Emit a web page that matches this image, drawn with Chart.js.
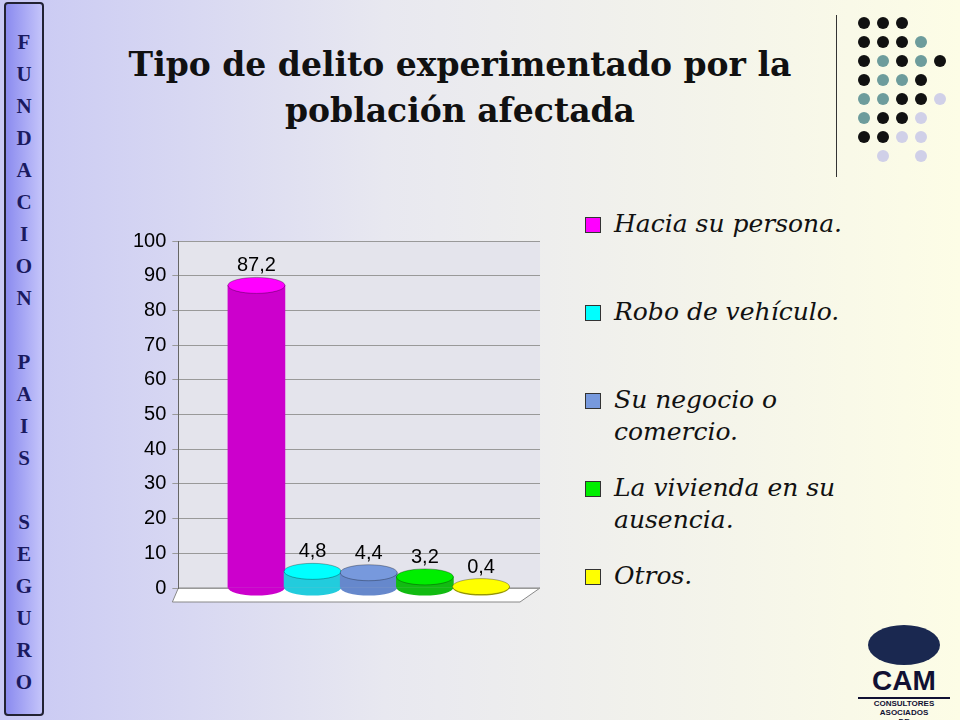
<!DOCTYPE html>
<html><head><meta charset="utf-8">
<script src="https://cdn.jsdelivr.net/npm/chart.js@4/dist/chart.umd.min.js"></script>
<style>
body{margin:0;width:960px;height:720px;overflow:hidden;position:relative;
 background:linear-gradient(90deg,#c8c8f4 0%,#e8e8f0 40%,#fdfde6 100%);font-family:"DejaVu Serif",serif}
#side{position:absolute;left:4px;top:2px;width:40px;height:714px;background:linear-gradient(90deg,#8b8bef,#c4c4fa);
 border:2px solid #223;border-radius:4px;box-sizing:border-box;text-align:center;font:bold 21px "Liberation Serif",serif;color:#1a1a60;line-height:32px;padding-top:22px}
#title{position:absolute;left:110px;top:42px;width:700px;text-align:center;font:bold 33px "DejaVu Serif",serif;line-height:46px;color:#111}
#vline{position:absolute;left:836px;top:15px;width:1px;height:162px;background:#333}
#dots{position:absolute;left:843px;top:10px}
.d{position:absolute;width:12px;height:12px;border-radius:50%}
#legend{position:absolute;left:585px;top:208px;font:italic 25px "DejaVu Serif",serif;color:#111}
.li{position:absolute;left:0;width:300px;line-height:32px}
.sw{position:absolute;left:0;top:9px;width:14px;height:14px;border:1px solid #333}
.li span{position:absolute;left:29px;white-space:nowrap}
#cam{position:absolute;left:858px;top:625px;width:92px;font:bold 28px "Liberation Sans",sans-serif;color:#113;text-align:center}
</style></head><body>
<div id="side">F<br>U<br>N<br>D<br>A<br>C<br>I<br>O<br>N<br><br>P<br>A<br>I<br>S<br><br>S<br>E<br>G<br>U<br>R<br>O</div>
<div id="title">Tipo de delito experimentado por la población afectada</div>
<div id="vline"></div><div id="dots"></div>
<div id="legend"></div>
<div id="cam"><div style="width:72px;height:40px;margin:0 auto;border-radius:50%;background:#1a2850"></div>CAM<div style="font-size:8px;line-height:9px;border-top:2px solid #113">CONSULTORES<br>ASOCIADOS<br>DE<br>MARKETING</div></div>
<canvas id="c" width="960" height="720" style="position:absolute;left:0;top:0"></canvas>
<script>
const categories = ["Hacia su persona.", "Robo de vehículo.", "Su negocio o comercio.", "La vivienda en su ausencia.", "Otros."];
const values = [87.2, 4.8, 4.4, 3.2, 0.4];
const valueLabels = ["87,2", "4,8", "4,4", "3,2", "0,4"];
const colors = ["#cc00cc", "#22ccdd", "#6688cc", "#11bb11", "#aaaa11"];
const legendColors = ["#ff00ff", "#00ffff", "#7799dd", "#00ee00", "#ffff00"];
const yTicks = [0, 10, 20, 30, 40, 50, 60, 70, 80, 90, 100];

// dots top right
const dotRows = [
  ["k","k","k","",""],["k","k","k","g",""],["k","g","k","g","k"],["k","g","g","k",""],
  ["g","g","k","k","l"],["g","k","k","l",""],["k","k","l","l",""],["","l","","l",""]];
const dc = {k:"#111", g:"#6d9c9c", l:"#d0d0e8"};
dotRows.forEach((r, i) => r.forEach((c, j) => {
  if (!c) return;
  const d = document.createElement("div");
  d.className = "d"; d.style.background = dc[c];
  d.style.left = (j * 19 + 15) + "px"; d.style.top = (i * 19 + 7) + "px";
  document.getElementById("dots").appendChild(d);
}));

// legend
const legTop = [0, 88, 176, 264, 352];
const legText = ["Hacia su persona.", "Robo de vehículo.", "Su negocio o<br>comercio.", "La vivienda en su<br>ausencia.", "Otros."];
categories.forEach((c, i) => {
  const el = document.createElement("div");
  el.className = "li"; el.style.top = legTop[i] + "px";
  el.innerHTML = `<div class="sw" style="background:${legendColors[i]}"></div><span>${legText[i]}</span>`;
  document.getElementById("legend").appendChild(el);
});

const cyl = {
  id: "cyl",
  beforeDraw(chart) {
    const { ctx, chartArea: a } = chart;
    ctx.save();
    ctx.fillStyle = "#e4e4ec";
    ctx.fillRect(a.left, a.top, a.right - a.left, a.bottom - a.top);
    ctx.fillStyle = "#fff";
    ctx.strokeStyle = "#888";
    ctx.beginPath();
    ctx.moveTo(a.left, a.bottom); ctx.lineTo(a.right, a.bottom);
    ctx.lineTo(a.right - 20, a.bottom + 14); ctx.lineTo(a.left - 6, a.bottom + 14);
    ctx.closePath(); ctx.fill(); ctx.stroke();
    ctx.restore();
  },
  afterDatasetsDraw(chart) {
    const { ctx } = chart;
    chart.getDatasetMeta(0).data.forEach((b, i) => {
      const w = b.width / 2;
      ctx.save();
      ctx.fillStyle = colors[i];
      ctx.beginPath(); ctx.ellipse(b.x, b.base, w, 8, 0, 0, Math.PI); ctx.fill();
      ctx.fillStyle = legendColors[i];
      ctx.strokeStyle = "rgba(0,0,0,0.3)";
      ctx.beginPath(); ctx.ellipse(b.x, b.y, w, 8, 0, 0, 2 * Math.PI); ctx.fill(); ctx.stroke();
      ctx.fillStyle = "#000";
      ctx.font = "20px 'Liberation Sans', sans-serif";
      ctx.textAlign = "center";
      ctx.fillText(valueLabels[i], b.x, b.y - 14);
      ctx.restore();
    });
  }
};

new Chart(document.getElementById("c"), {
  type: "bar",
  data: {
    datasets: [{
      data: values.map((v, i) => ({ x: i, y: v })),
      backgroundColor: colors,
      barThickness: 57
    }]
  },
  options: {
    responsive: false, animation: false,
    layout: { padding: { left: 127, right: 420, top: 241, bottom: 132 } },
    plugins: { legend: { display: false }, tooltip: { enabled: false } },
    scales: {
      x: { type: "linear", offset: false, min: -1.39, max: 5.05, display: false, grid: { display: false } },
      y: {
        min: 0, max: 100,
        afterBuildTicks: s => { s.ticks = yTicks.map(v => ({ value: v })); },
        ticks: { color: "#000", font: { size: 20, family: "Liberation Sans" }, padding: 6 },
        grid: { color: "#999", drawTicks: true, tickLength: 6 },
        border: { color: "#666" }
      }
    }
  },
  plugins: [cyl]
});
</script>
</body></html>
